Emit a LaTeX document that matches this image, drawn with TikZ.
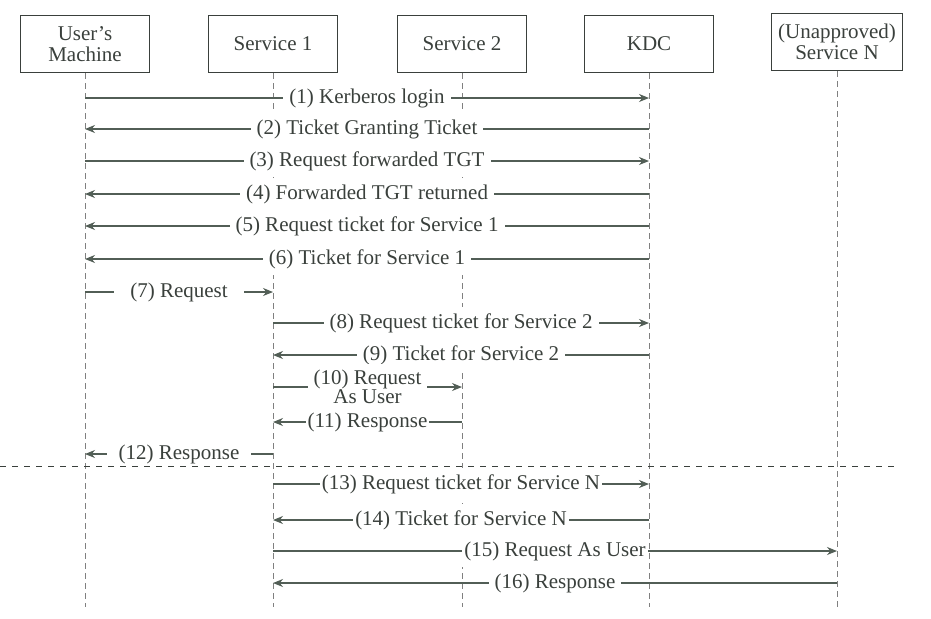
\documentclass[tikz,border=0pt]{standalone}
\usepackage{fontspec}
\setmainfont{Liberation Serif}
\usetikzlibrary{arrows.meta}
\definecolor{ink}{RGB}{58,64,60}
\definecolor{arrowink}{RGB}{82,94,86}
\begin{document}
\begin{tikzpicture}[x=0.5pt, y=-0.5pt,
  actor/.style={draw=ink, thick, minimum width=64.5pt, minimum height=28.5pt, align=center, text=ink, font=\fontsize{10.5}{10.5}\selectfont},
  lifeline/.style={draw=gray, densely dashed, very thin},
  msg/.style={draw=arrowink, semithick, -{Stealth[length=5pt,width=4pt]}},
  lbl/.style={fill=white, inner sep=3pt, text=ink, font=\fontsize{10.5}{9.5}\selectfont}]
% Set the picture size
\useasboundingbox (0,0) rectangle (931,618);

% Draw the boxes on top
\node[actor] (user) at (85,44) {User's\\Machine};
\node[actor] (svcone) at (273,44) {Service 1};
\node[actor] (svctwo) at (462,44) {Service 2};
\node[actor] (kdc) at (649,44) {KDC};
\node[actor] (svcn) at (837,42) {(Unapproved)\\Service N};

% Draw the lifelines
\coordinate (userend) at (85,607);
\coordinate (svconeend) at (273,607);
\coordinate (svctwoend) at (462,607);
\coordinate (kdcend) at (649,607);
\coordinate (svcnend) at (837,607);
\draw[lifeline] (user) -- (userend);
\draw[lifeline] (svcone) -- (svconeend);
\draw[lifeline] (svctwo) -- (svctwoend);
\draw[lifeline] (kdc) -- (kdcend);
\draw[lifeline] (svcn) -- (svcnend);

% Login and ticket messages
\draw[msg] (user |- 0,98) -- (kdc |- 0,98) node[lbl, midway] {(1) Kerberos login};
\draw[msg] (kdc |- 0,129) -- (user |- 0,129) node[lbl, midway] {(2) Ticket Granting Ticket};
\draw[msg] (user |- 0,161) -- (kdc |- 0,161) node[lbl, midway] {(3) Request forwarded TGT};
\draw[msg] (kdc |- 0,194) -- (user |- 0,194) node[lbl, midway] {(4) Forwarded TGT returned};
\draw[msg] (kdc |- 0,226) -- (user |- 0,226) node[lbl, midway] {(5) Request ticket for Service 1};
\draw[msg] (kdc |- 0,259) -- (user |- 0,259) node[lbl, midway] {(6) Ticket for Service 1};

% Service 1 acts for the user
\draw[msg] (user |- 0,292) -- (svcone |- 0,292) node[lbl, midway, inner xsep=8pt] {(7) Request};
\draw[msg] (svcone |- 0,323) -- (kdc |- 0,323) node[lbl, midway] {(8) Request ticket for Service 2};
\draw[msg] (kdc |- 0,355) -- (svcone |- 0,355) node[lbl, midway] {(9) Ticket for Service 2};
\draw[msg] (svcone |- 0,387) -- (svctwo |- 0,387) node[lbl, midway, align=center] {(10) Request\\As User};
\draw[msg] (svctwo |- 0,422) -- (svcone |- 0,422) node[lbl, midway, inner xsep=1pt] {(11) Response};
\draw[msg] (svcone |- 0,454) -- (user |- 0,454) node[lbl, midway, inner xsep=6pt] {(12) Response};

% Split line
\coordinate (sepleft) at (0,466);
\coordinate (sepright) at (895,466);
\draw[ink, dashed] (sepleft) -- (sepright);

% Unapproved service
\draw[msg] (svcone |- 0,484) -- (kdc |- 0,484) node[lbl, midway, inner xsep=1pt] {(13) Request ticket for Service N};
\draw[msg] (kdc |- 0,520) -- (svcone |- 0,520) node[lbl, midway, inner xsep=1pt] {(14) Ticket for Service N};
\draw[msg] (svcone |- 0,551) -- (svcn |- 0,551) node[lbl, midway, inner xsep=1pt] {(15) Request As User};
\draw[msg] (svcn |- 0,583) -- (svcone |- 0,583) node[lbl, midway] {(16) Response};
\end{tikzpicture}
\end{document}
